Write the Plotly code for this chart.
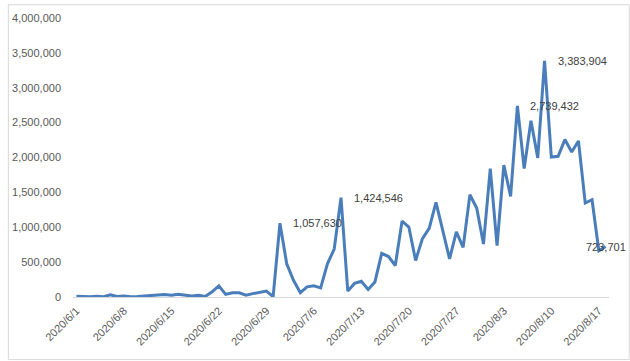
import datetime as dt
import plotly.graph_objects as go

start = dt.date(2020, 6, 1)
values = [
    10000, 5000, 3000, 12000, 4000, 30000, 6000, 14000, 5000, 8000,
    12000, 18000, 28000, 35000, 24000, 38000, 25000, 14000, 24000, 8000,
    75000, 160000, 38000, 62000, 60000, 25000, 48000, 70000, 85000, 5000,
    1057630, 476000, 240000, 61000, 146000, 160000, 131000, 476000, 688000, 1424546,
    85000, 195000, 226000, 109000, 216000, 626000, 580000, 452000, 1088000, 1003000,
    523000, 838000, 985000, 1357000, 971000, 547000, 933000, 711000, 1466000, 1276000,
    759000, 1842000, 735000, 1890000, 1442000, 2739432, 1842000, 2526000, 1993000, 3383904,
    2007000, 2017000, 2257000, 2078000, 2237000, 1347000, 1395000, 664000, 723701,
]
dates = [start + dt.timedelta(days=i) for i in range(len(values))]
categories = [f"{d.year}/{d.month}/{d.day}" for d in dates]
tick_labels = categories[::7]
labeled_idx = [30, 39, 65, 69, 78]
label_anchor = ["left", "left", "left", "left", "center"]

fig = go.Figure()
fig.add_trace(go.Scatter(
    x=categories, y=values, mode="lines",
    line=dict(color="#4A7EBB", width=3),
    hoverinfo="skip",
))

for i, anc in zip(labeled_idx, label_anchor):
    fig.add_annotation(
        x=categories[i], y=values[i], text=f"{values[i]:,}",
        showarrow=False, xanchor=anc, yanchor="middle",
        xshift=11 if anc == "left" else 0,
        font=dict(family="Liberation Sans", size=11, color="#404040"),
    )

W, H = 630, 361
ml, mr, mt, mb = 66, 21, 14, 64
pw, ph = W - ml - mr, H - mt - mb
fig.add_shape(
    type="rect", xref="paper", yref="paper",
    x0=-(ml - 0.5) / pw, x1=(pw + mr - 0.5) / pw,
    y0=-(mb - 0.5) / ph, y1=(ph + mt - 0.5) / ph,
    line=dict(color="#D9D9D9", width=1), layer="below",
)

fig.update_layout(
    width=W, height=H,
    margin=dict(l=ml, r=mr, t=mt, b=mb),
    paper_bgcolor="white", plot_bgcolor="white",
    showlegend=False,
    font=dict(family="Liberation Sans", size=11, color="#595959"),
    xaxis=dict(
        type="category", range=[-0.5, len(values) - 0.5],
        tickmode="array", tickvals=tick_labels, ticktext=tick_labels,
        tickangle=-45, showgrid=False, zeroline=False,
        showline=True, linecolor="#D9D9D9", linewidth=1,
        ticks="", ticklabelstandoff=2,
        tickfont=dict(family="Liberation Sans", size=11, color="#595959"),
    ),
    yaxis=dict(
        range=[0, 4000000], dtick=500000, tickformat=",",
        showgrid=False, zeroline=False, showline=False,
        ticks="", ticklabelstandoff=11,
        tickfont=dict(family="Liberation Sans", size=11, color="#595959"),
    ),
)

fig.write_html(
    "out.html",
    config={"displayModeBar": False},
    post_script="document.body.style.margin='0';",
)
